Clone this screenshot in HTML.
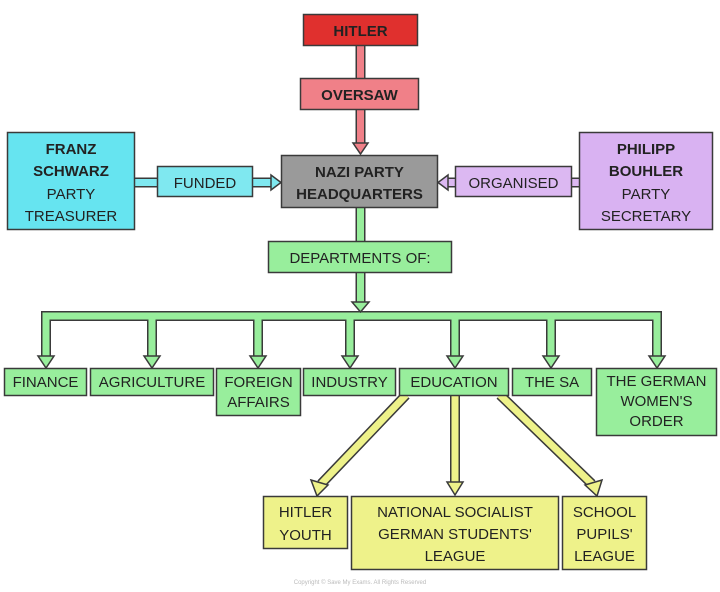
<!DOCTYPE html>
<html><head><meta charset="utf-8"><style>
html,body{margin:0;padding:0;background:#fff;}
svg{display:block;}
text{font-family:"Liberation Sans",sans-serif;font-size:15px;fill:#222;text-anchor:middle;}
</style></head><body>
<svg width="720" height="592" viewBox="0 0 720 592" xmlns="http://www.w3.org/2000/svg">
<!-- connectors: dark outline layer -->
<g fill="none" stroke="#3a3a3a" stroke-width="10" stroke-linejoin="miter">
  <path d="M360.5 46 V78 M360.5 110 V146"/>
  <path d="M135 182.5 H157 M253 182.5 H272"/>
  <path d="M571 182.5 H579 M455 182.5 H447"/>
  <path d="M360.5 207 V241 M360.5 272 V304"/>
  <path d="M46 358 V316 H657 V358 M152 316 V358 M258 316 V358 M350 316 V358 M455 316 V358 M551 316 V358"/>
</g>
<g fill="none" stroke="#f08088" stroke-width="7"><path d="M360.5 46 V78 M360.5 110 V146"/></g>
<g fill="none" stroke="#7fe8f0" stroke-width="7"><path d="M135 182.5 H157 M253 182.5 H272"/></g>
<g fill="none" stroke="#dcb8f2" stroke-width="7"><path d="M571 182.5 H579 M455 182.5 H447"/></g>
<g fill="none" stroke="#98ee9c" stroke-width="7">
  <path d="M360.5 207 V241 M360.5 272 V304"/>
  <path d="M46 358 V316 H657 V358 M152 316 V358 M258 316 V358 M350 316 V358 M455 316 V358 M551 316 V358"/>
</g>
<!-- yellow arrows -->
<g fill="none" stroke="#3a3a3a" stroke-width="10">
  <path d="M406 395 L321 484 M455 395 V484 M500 395 L592 484"/>
</g>
<g fill="none" stroke="#eef28a" stroke-width="7">
  <path d="M406 395 L321 484 M455 395 V484 M500 395 L592 484"/>
</g>
<!-- arrowheads -->
<g stroke="#3a3a3a" stroke-width="1.5" stroke-linejoin="miter">
  <polygon points="353,143 368,143 360.5,154" fill="#f08088"/>
  <polygon points="271,175 271,190 281,182.5" fill="#7fe8f0"/>
  <polygon points="448,175 448,190 438,182.5" fill="#dcb8f2"/>
  <polygon points="352,302 369,302 360.5,312" fill="#98ee9c"/>
  <g fill="#98ee9c">
    <polygon points="38,356 54,356 46,368"/>
    <polygon points="144,356 160,356 152,368"/>
    <polygon points="250,356 266,356 258,368"/>
    <polygon points="342,356 358,356 350,368"/>
    <polygon points="447,356 463,356 455,368"/>
    <polygon points="543,356 559,356 551,368"/>
    <polygon points="649,356 665,356 657,368"/>
  </g>
  <g fill="#eef28a">
    <polygon points="311,480 328,485 317,496"/>
    <polygon points="447,482 463,482 455,495"/>
    <polygon points="585,485 602,480 597,496"/>
  </g>
</g>
<!-- boxes -->
<g stroke="#3a3a3a" stroke-width="1.5">
  <rect x="303.5" y="14.5" width="114" height="31" fill="#e0302e"/>
  <rect x="300.5" y="78.5" width="118" height="31" fill="#f08088"/>
  <rect x="281.5" y="155.5" width="156" height="52" fill="#9a9a9a"/>
  <rect x="7.5" y="132.5" width="127" height="97" fill="#66e4f0"/>
  <rect x="157.5" y="166.5" width="95" height="30" fill="#7fe8f0"/>
  <rect x="455.5" y="166.5" width="116" height="30" fill="#dcb8f2"/>
  <rect x="579.5" y="132.5" width="133" height="97" fill="#d9b2f2"/>
  <rect x="268.5" y="241.5" width="183" height="31" fill="#98ee9c"/>
  <g fill="#98ee9c">
    <rect x="4.5" y="368.5" width="82" height="27"/>
    <rect x="90.5" y="368.5" width="123" height="27"/>
    <rect x="216.5" y="368.5" width="84" height="47"/>
    <rect x="303.5" y="368.5" width="92" height="27"/>
    <rect x="399.5" y="368.5" width="109" height="27"/>
    <rect x="512.5" y="368.5" width="79" height="27"/>
    <rect x="596.5" y="368.5" width="120" height="67"/>
  </g>
  <g fill="#eef28a">
    <rect x="263.5" y="496.5" width="84" height="52"/>
    <rect x="351.5" y="496.5" width="207" height="73"/>
    <rect x="562.5" y="496.5" width="84" height="73"/>
  </g>
</g>
<!-- labels -->
<g>
  <text x="360.5" y="36" font-weight="bold">HITLER</text>
  <text x="359.5" y="100" font-weight="bold">OVERSAW</text>
  <text x="359.5" y="177" font-weight="bold">NAZI PARTY</text>
  <text x="359.5" y="199" font-weight="bold">HEADQUARTERS</text>
  <text x="71" y="154" font-weight="bold">FRANZ</text>
  <text x="71" y="176" font-weight="bold">SCHWARZ</text>
  <text x="71" y="199">PARTY</text>
  <text x="71" y="221">TREASURER</text>
  <text x="205" y="188">FUNDED</text>
  <text x="513.5" y="188">ORGANISED</text>
  <text x="646" y="154" font-weight="bold">PHILIPP</text>
  <text x="646" y="176" font-weight="bold">BOUHLER</text>
  <text x="646" y="199">PARTY</text>
  <text x="646" y="221">SECRETARY</text>
  <text x="360" y="263">DEPARTMENTS OF:</text>
  <text x="45.5" y="387">FINANCE</text>
  <text x="152" y="387">AGRICULTURE</text>
  <text x="258.5" y="387">FOREIGN</text>
  <text x="258.5" y="407">AFFAIRS</text>
  <text x="349.5" y="387">INDUSTRY</text>
  <text x="454" y="387">EDUCATION</text>
  <text x="552" y="387">THE SA</text>
  <text x="656.5" y="386">THE GERMAN</text>
  <text x="656.5" y="406">WOMEN'S</text>
  <text x="656.5" y="426">ORDER</text>
  <text x="305.5" y="517">HITLER</text>
  <text x="305.5" y="540">YOUTH</text>
  <text x="455" y="517">NATIONAL SOCIALIST</text>
  <text x="455" y="539">GERMAN STUDENTS'</text>
  <text x="455" y="561">LEAGUE</text>
  <text x="604.5" y="517">SCHOOL</text>
  <text x="604.5" y="539">PUPILS'</text>
  <text x="604.5" y="561">LEAGUE</text>
  <text x="360" y="584" style="font-size:6px;fill:#bbb">Copyright © Save My Exams. All Rights Reserved</text>
</g>
</svg>
</body></html>
